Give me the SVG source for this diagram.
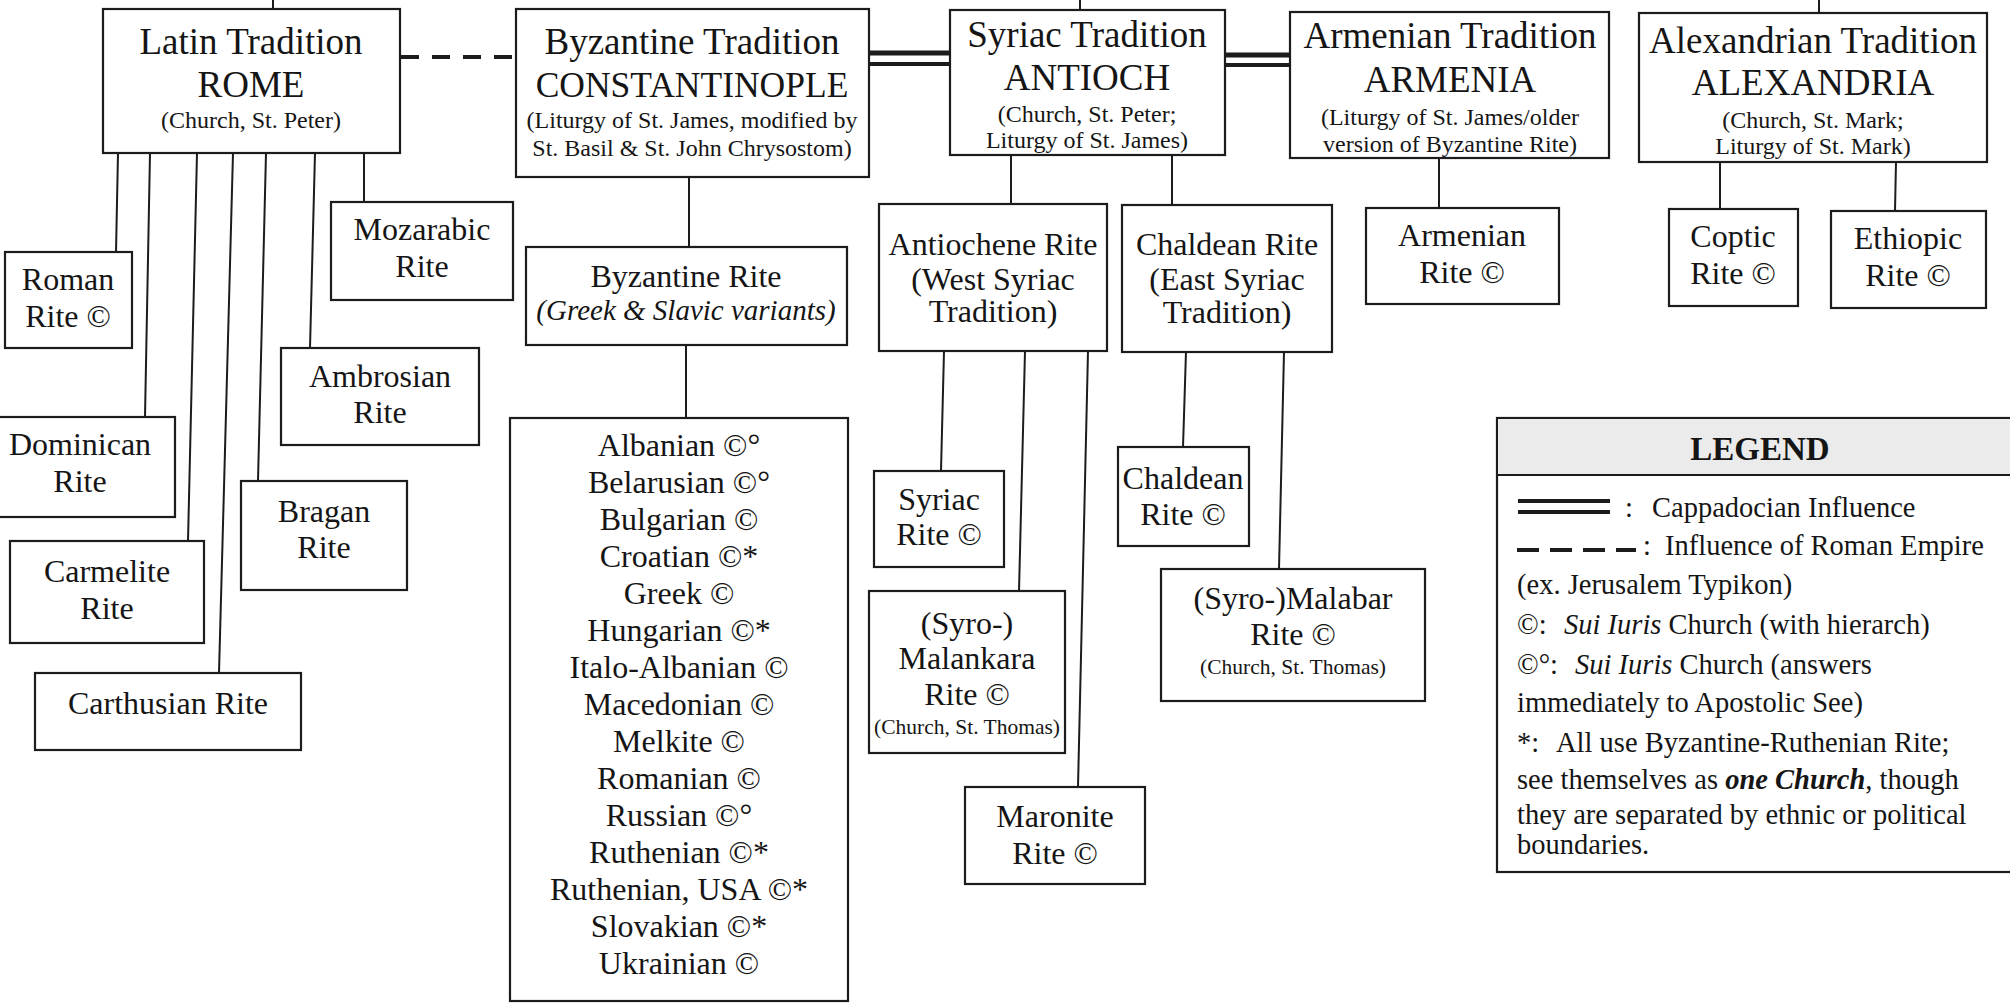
<svg xmlns="http://www.w3.org/2000/svg" width="2010" height="1004" viewBox="0 0 2010 1004">
<defs>
<style>
.box{fill:#fff;stroke:#1c1c1c;stroke-width:2.2}
.ln{stroke:#1c1c1c;stroke-width:2;fill:none}
text{font-family:"Liberation Serif","Times New Roman",serif;fill:#151515;text-anchor:middle}
.t1{font-size:37px}
.t2{font-size:24px}
.t3{font-size:32px}
.t4{font-size:21.5px}
.lst{font-size:32px}
.lg{font-family:"Liberation Serif","Times New Roman",serif;font-size:28.5px;text-anchor:start}
.it{font-style:italic}
.bi{font-style:italic;font-weight:bold}
</style>
</defs>
<rect x="0" y="0" width="2010" height="1004" fill="#fff"/>

<g id="connectors">
<line class="ln" x1="273" y1="0" x2="273" y2="9"/>
<line class="ln" x1="1080" y1="0" x2="1080" y2="10"/>
<line class="ln" x1="1819" y1="0" x2="1819" y2="13"/>
<line x1="401" y1="57" x2="516" y2="57" stroke="#1c1c1c" stroke-width="4" stroke-dasharray="18 13"/>
<line x1="869" y1="53" x2="950" y2="53" stroke="#1c1c1c" stroke-width="5"/>
<line x1="869" y1="64" x2="950" y2="64" stroke="#1c1c1c" stroke-width="4"/>
<line x1="1225" y1="55" x2="1290" y2="55" stroke="#1c1c1c" stroke-width="5"/>
<line x1="1225" y1="65" x2="1290" y2="65" stroke="#1c1c1c" stroke-width="4"/>
<line class="ln" x1="118" y1="153" x2="116" y2="252"/>
<line class="ln" x1="150" y1="153" x2="145" y2="417"/>
<line class="ln" x1="197" y1="153" x2="188" y2="541"/>
<line class="ln" x1="233" y1="153" x2="219" y2="673"/>
<line class="ln" x1="266" y1="153" x2="258" y2="481"/>
<line class="ln" x1="315" y1="153" x2="310" y2="348"/>
<line class="ln" x1="364" y1="153" x2="364" y2="202"/>
<line class="ln" x1="689" y1="177" x2="689" y2="247"/>
<line class="ln" x1="686" y1="345" x2="686" y2="418"/>
<line class="ln" x1="1011" y1="155" x2="1011" y2="204"/>
<line class="ln" x1="1172" y1="155" x2="1172" y2="205"/>
<line class="ln" x1="944" y1="351" x2="941" y2="471"/>
<line class="ln" x1="1025" y1="351" x2="1019" y2="591"/>
<line class="ln" x1="1088" y1="351" x2="1078" y2="787"/>
<line class="ln" x1="1186" y1="352" x2="1183" y2="447"/>
<line class="ln" x1="1284" y1="352" x2="1279" y2="569"/>
<line class="ln" x1="1439" y1="158" x2="1439" y2="208"/>
<line class="ln" x1="1720" y1="162" x2="1720" y2="209"/>
<line class="ln" x1="1896" y1="162" x2="1895" y2="211"/>
</g>

<g id="latin">
<rect class="box" x="103" y="9" width="297" height="144"/>
<text class="t1" x="251" y="54">Latin Tradition</text>
<text class="t1" x="251" y="97">ROME</text>
<text class="t2" x="251" y="128">(Church, St. Peter)</text>
</g>
<g id="byzantine">
<rect class="box" x="516" y="9" width="353" height="168"/>
<text class="t1" x="692" y="54">Byzantine Tradition</text>
<text class="t1" x="692" y="97" style="font-size:35.5px">CONSTANTINOPLE</text>
<text class="t2" x="692" y="128">(Liturgy of St. James, modified by</text>
<text class="t2" x="692" y="156">St. Basil &amp; St. John Chrysostom)</text>
</g>
<g id="syriac">
<rect class="box" x="950" y="10" width="275" height="145"/>
<text class="t1" x="1087" y="47">Syriac Tradition</text>
<text class="t1" x="1087" y="90">ANTIOCH</text>
<text class="t2" x="1087" y="122">(Church, St. Peter;</text>
<text class="t2" x="1087" y="148">Liturgy of St. James)</text>
</g>
<g id="armenian">
<rect class="box" x="1290" y="12" width="319" height="146"/>
<text class="t1" x="1450" y="48">Armenian Tradition</text>
<text class="t1" x="1450" y="92">ARMENIA</text>
<text class="t2" x="1450" y="125">(Liturgy of St. James/older</text>
<text class="t2" x="1450" y="152">version of Byzantine Rite)</text>
</g>
<g id="alexandrian">
<rect class="box" x="1639" y="13" width="348" height="149"/>
<text class="t1" x="1813" y="53">Alexandrian Tradition</text>
<text class="t1" x="1813" y="95">ALEXANDRIA</text>
<text class="t2" x="1813" y="128">(Church, St. Mark;</text>
<text class="t2" x="1813" y="154">Liturgy of St. Mark)</text>
</g>

<g id="roman">
<rect class="box" x="5" y="252" width="127" height="96"/>
<text class="t3" x="68" y="290">Roman</text>
<text class="t3" x="68" y="327">Rite ©</text>
</g>
<g id="mozarabic">
<rect class="box" x="331" y="202" width="182" height="98"/>
<text class="t3" x="422" y="240">Mozarabic</text>
<text class="t3" x="422" y="277">Rite</text>
</g>
<g id="ambrosian">
<rect class="box" x="281" y="348" width="198" height="97"/>
<text class="t3" x="380" y="387">Ambrosian</text>
<text class="t3" x="380" y="423">Rite</text>
</g>
<g id="dominican">
<rect class="box" x="-20" y="417" width="195" height="100"/>
<text class="t3" x="80" y="455">Dominican</text>
<text class="t3" x="80" y="492">Rite</text>
</g>
<g id="bragan">
<rect class="box" x="241" y="481" width="166" height="109"/>
<text class="t3" x="324" y="522">Bragan</text>
<text class="t3" x="324" y="558">Rite</text>
</g>
<g id="carmelite">
<rect class="box" x="10" y="541" width="194" height="102"/>
<text class="t3" x="107" y="582">Carmelite</text>
<text class="t3" x="107" y="619">Rite</text>
</g>
<g id="carthusian">
<rect class="box" x="35" y="673" width="266" height="77"/>
<text class="t3" x="168" y="714">Carthusian Rite</text>
</g>

<g id="byzantine-rite">
<rect class="box" x="526" y="247" width="321" height="98"/>
<text class="t3" x="686" y="287">Byzantine Rite</text>
<text class="t3 it" x="686" y="320" style="font-size:29px">(Greek &amp; Slavic variants)</text>
</g>
<g id="byzantine-churches">
<rect class="box" x="510" y="418" width="338" height="583"/>
<text class="lst" x="679" y="456">Albanian ©°</text>
<text class="lst" x="679" y="493">Belarusian ©°</text>
<text class="lst" x="679" y="530">Bulgarian ©</text>
<text class="lst" x="679" y="567">Croatian ©*</text>
<text class="lst" x="679" y="604">Greek ©</text>
<text class="lst" x="679" y="641">Hungarian ©*</text>
<text class="lst" x="679" y="678">Italo-Albanian ©</text>
<text class="lst" x="679" y="715">Macedonian ©</text>
<text class="lst" x="679" y="752">Melkite ©</text>
<text class="lst" x="679" y="789">Romanian ©</text>
<text class="lst" x="679" y="826">Russian ©°</text>
<text class="lst" x="679" y="863">Ruthenian ©*</text>
<text class="lst" x="679" y="900">Ruthenian, USA ©*</text>
<text class="lst" x="679" y="937">Slovakian ©*</text>
<text class="lst" x="679" y="974">Ukrainian ©</text>
</g>

<g id="antiochene">
<rect class="box" x="879" y="204" width="228" height="147"/>
<text class="t3" x="993" y="255">Antiochene Rite</text>
<text class="t3" x="993" y="290">(West Syriac</text>
<text class="t3" x="993" y="322">Tradition)</text>
</g>
<g id="chaldean-rite">
<rect class="box" x="1122" y="205" width="210" height="147"/>
<text class="t3" x="1227" y="255">Chaldean Rite</text>
<text class="t3" x="1227" y="290">(East Syriac</text>
<text class="t3" x="1227" y="323">Tradition)</text>
</g>
<g id="syriac-rite">
<rect class="box" x="874" y="471" width="130" height="96"/>
<text class="t3" x="939" y="510">Syriac</text>
<text class="t3" x="939" y="545">Rite ©</text>
</g>
<g id="malankara">
<rect class="box" x="869" y="591" width="196" height="162"/>
<text class="t3" x="967" y="634">(Syro-)</text>
<text class="t3" x="967" y="669">Malankara</text>
<text class="t3" x="967" y="705">Rite ©</text>
<text class="t4" x="967" y="734">(Church, St. Thomas)</text>
</g>
<g id="maronite">
<rect class="box" x="965" y="787" width="180" height="97"/>
<text class="t3" x="1055" y="827">Maronite</text>
<text class="t3" x="1055" y="864">Rite ©</text>
</g>
<g id="chaldean">
<rect class="box" x="1118" y="447" width="131" height="99"/>
<text class="t3" x="1183" y="489">Chaldean</text>
<text class="t3" x="1183" y="525">Rite ©</text>
</g>
<g id="malabar">
<rect class="box" x="1161" y="569" width="264" height="132"/>
<text class="t3" x="1293" y="609">(Syro-)Malabar</text>
<text class="t3" x="1293" y="645">Rite ©</text>
<text class="t4" x="1293" y="674">(Church, St. Thomas)</text>
</g>

<g id="armenian-rite">
<rect class="box" x="1366" y="208" width="193" height="96"/>
<text class="t3" x="1462" y="246">Armenian</text>
<text class="t3" x="1462" y="283">Rite ©</text>
</g>
<g id="coptic">
<rect class="box" x="1669" y="209" width="129" height="97"/>
<text class="t3" x="1733" y="247">Coptic</text>
<text class="t3" x="1733" y="284">Rite ©</text>
</g>
<g id="ethiopic">
<rect class="box" x="1831" y="211" width="155" height="97"/>
<text class="t3" x="1908" y="249">Ethiopic</text>
<text class="t3" x="1908" y="286">Rite ©</text>
</g>

<g id="legend">
<rect class="box" x="1497" y="418" width="520" height="454"/>
<rect x="1498" y="419" width="518" height="56" fill="#ebebeb"/>
<line class="ln" x1="1497" y1="475" x2="2010" y2="475"/>
<text x="1760" y="460" style="font-size:33px;font-weight:bold">LEGEND</text>
<line x1="1518" y1="501" x2="1610" y2="501" stroke="#1c1c1c" stroke-width="4"/>
<line x1="1518" y1="512" x2="1610" y2="512" stroke="#1c1c1c" stroke-width="4"/>
<text class="lg" x="1625" y="517">:<tspan x="1652">Cappadocian Influence</tspan></text>
<line x1="1517" y1="550" x2="1636" y2="550" stroke="#1c1c1c" stroke-width="4" stroke-dasharray="22 11"/>
<text class="lg" x="1643" y="555">:<tspan x="1665">Influence of Roman Empire</tspan></text>
<text class="lg" x="1517" y="594">(ex. Jerusalem Typikon)</text>
<text class="lg" x="1517" y="634">©:<tspan x="1564" class="it">Sui Iuris</tspan> Church (with hierarch)</text>
<text class="lg" x="1517" y="674">©°:<tspan x="1575" class="it">Sui Iuris</tspan> Church (answers</text>
<text class="lg" x="1517" y="712">immediately to Apostolic See)</text>
<text class="lg" x="1517" y="752">*:<tspan x="1556">All use Byzantine-Ruthenian Rite;</tspan></text>
<text class="lg" x="1517" y="789">see themselves as <tspan class="bi">one Church</tspan>, though</text>
<text class="lg" x="1517" y="824">they are separated by ethnic or political</text>
<text class="lg" x="1517" y="854">boundaries.</text>
</g>
</svg>
